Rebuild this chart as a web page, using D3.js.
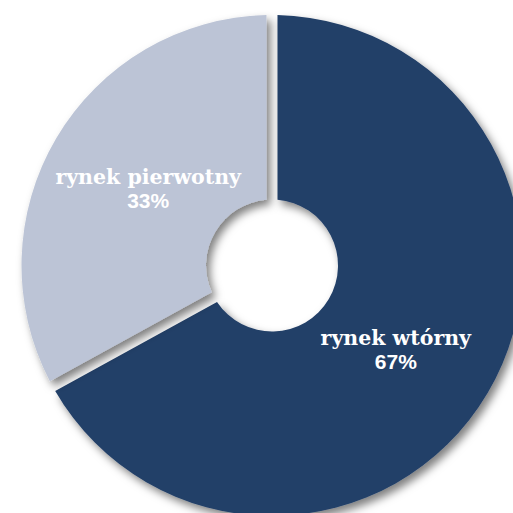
<!DOCTYPE html>
<html>
<head>
<meta charset="utf-8">
<script src="https://cdn.jsdelivr.net/npm/d3@7"></script>
<style>
  html, body { margin: 0; padding: 0; background: #ffffff; }
  svg { display: block; }
</style>
</head>
<body>
<svg id="chart" width="513" height="513"></svg>
<script>
// Market share: secondary vs primary housing market
const categories = ["rynek wtórny", "rynek pierwotny"];
const values = [67, 33];
const valueLabels = ["67%", "33%"];
const colors = ["#223f67", "#bcc4d6"];

const width = 513, height = 513;
const cx = 272, cy = 265.5;
const outerR = 250.5, innerR = 66;
const gap = 11; // constant-width gap between slices

const svg = d3.select("#chart");
svg.append("rect").attr("width", width).attr("height", height).attr("fill", "#ffffff");

const defs = svg.append("defs");
const shadow = defs.append("filter")
  .attr("id", "sliceShadow")
  .attr("x", "-20%").attr("y", "-20%")
  .attr("width", "140%").attr("height", "140%");
shadow.append("feDropShadow")
  .attr("dx", 4).attr("dy", 5)
  .attr("stdDeviation", 4)
  .attr("flood-color", "#000000")
  .attr("flood-opacity", 0.5);

const data = categories.map((c, i) => ({ category: c, value: values[i], label: valueLabels[i], color: colors[i] }));

const pie = d3.pie()
  .sort(null)
  .value(d => d.value)
  .startAngle(0)
  .endAngle(2 * Math.PI);

const padRadius = outerR;
const arc = d3.arc()
  .innerRadius(innerR)
  .outerRadius(outerR)
  .padRadius(padRadius)
  .padAngle(2 * Math.asin((gap / 2) / padRadius));

const labelArc = d3.arc().innerRadius(145).outerRadius(145);

const arcs = pie(data);
const g = svg.append("g").attr("transform", `translate(${cx},${cy})`);

g.selectAll("path.slice")
  .data(arcs)
  .join("path")
  .attr("class", "slice")
  .attr("d", arc)
  .attr("fill", d => d.data.color)
  .attr("filter", "url(#sliceShadow)");

// label placement: block centred near each slice's label centroid
const nudge = { "rynek wtórny": [-1, 7], "rynek pierwotny": [1, -7] };

const labels = g.selectAll("g.label")
  .data(arcs)
  .join("g")
  .attr("class", "label")
  .attr("transform", d => {
    const [x, y] = labelArc.centroid(d);
    const n = nudge[d.data.category];
    return `translate(${x + n[0]},${y + n[1]})`;
  });

labels.append("text")
  .attr("text-anchor", "middle")
  .attr("y", -1)
  .attr("fill", "#ffffff")
  .style("font-family", "'DejaVu Serif', serif")
  .style("font-weight", "bold")
  .style("font-size", "20.5px")
  .text(d => d.data.category);

labels.append("text")
  .attr("text-anchor", "middle")
  .attr("y", 23)
  .attr("fill", "#ffffff")
  .style("font-family", "'Liberation Sans', Arial, sans-serif")
  .style("font-weight", "bold")
  .style("font-size", "21px")
  .text(d => d.data.label);
</script>
</body>
</html>
